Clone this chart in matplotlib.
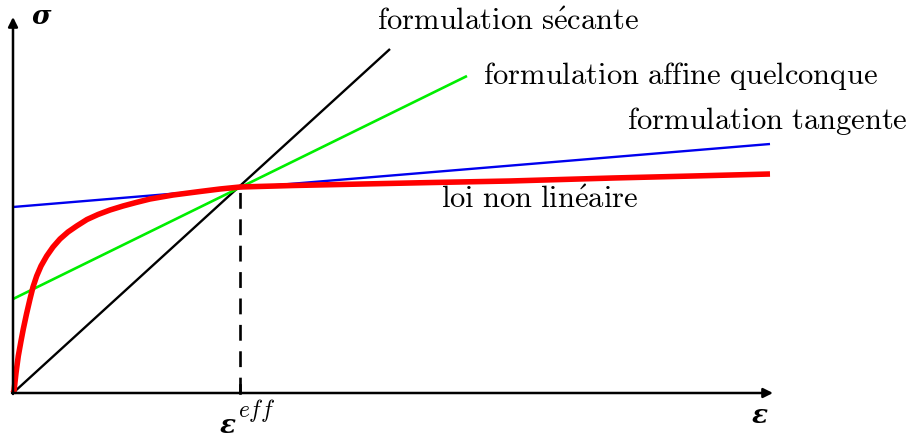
import matplotlib
matplotlib.use("Agg")
import matplotlib.pyplot as plt

plt.rcParams['mathtext.fontset'] = 'cm'

# Nonlinear law (red)
red_x = [0, 1, 3, 5.3, 8, 10.3, 13.5, 17, 20, 23.7, 28, 33.7, 40, 47, 55, 63.7, 74, 85,
         97, 110, 123, 137, 160, 187, 207, 227, 280, 350, 420, 497, 600, 680, 757]
red_y = [0, 2, 20, 37, 52, 64, 79, 94, 106, 117, 127, 137, 146, 154, 161, 167, 173.5, 178.5,
         183, 187, 190.5, 194, 198, 201.5, 204, 206, 207.5, 209, 210.5, 212, 215, 217, 219]
# Secant (black)
sec_x = [0, 377]
sec_y = [0, 344]
# Affine (green)
aff_x = [0, 454]
aff_y = [94, 317]
# Tangent (blue)
tan_x = [0, 757]
tan_y = [186, 249]
# Effective strain point
eps_eff = 227
sig_eff = 206

fig = plt.figure(figsize=(9.13, 4.39), dpi=100)
ax = fig.add_axes([0, 0, 1, 1])
ax.set_xlim(-13, 900)
ax.set_ylim(-45, 394)
ax.axis('off')

# axes with arrows
ax.annotate('', xy=(760, 0), xytext=(-1, 0),
            arrowprops=dict(arrowstyle='-|>', lw=1.8, color='black', mutation_scale=14,
                            shrinkA=0, shrinkB=0))
ax.annotate('', xy=(0, 376), xytext=(0, -1),
            arrowprops=dict(arrowstyle='-|>', lw=1.8, color='black', mutation_scale=14,
                            shrinkA=0, shrinkB=0))

ax.plot(sec_x, sec_y, color='black', lw=1.7, solid_capstyle='butt')
ax.plot(aff_x, aff_y, color='#00ee00', lw=1.9, solid_capstyle='butt')
ax.plot(tan_x, tan_y, color='#0000ee', lw=1.7, solid_capstyle='butt')
ax.plot(red_x, red_y, color='red', lw=4, solid_capstyle='butt', solid_joinstyle='round')

ax.plot([eps_eff, eps_eff], [0, sig_eff], color='black', lw=1.9, dashes=(6, 4))
ax.plot([eps_eff, eps_eff], [0, 8], color='black', lw=1.9)

fs = 22
ax.text(364, 373, r'$\mathrm{formulation\ s\acute{e}cante}$', fontsize=fs, va='center', ha='left')
ax.text(470, 318, r'$\mathrm{formulation\ affine\ quelconque}$', fontsize=fs, va='center', ha='left')
ax.text(614, 273, r'$\mathrm{formulation\ tangente}$', fontsize=fs, va='center', ha='left')
ax.text(428, 195, r'$\mathrm{loi\ non\ lin\acute{e}aire}$', fontsize=fs, va='center', ha='left')

sym = dict(family='DejaVu Serif', weight='bold', style='italic', fontsize=19)
ax.text(28, 378, 'σ', va='center', ha='center', **sym)
ax.text(747, -22, 'ε', va='center', ha='center', **sym)
ax.text(215, -32, 'ε', va='center', ha='center', **sym)
ax.text(225, -17, r'$eff$', fontsize=17, va='center', ha='left')

fig.savefig('out.png', dpi=100)
